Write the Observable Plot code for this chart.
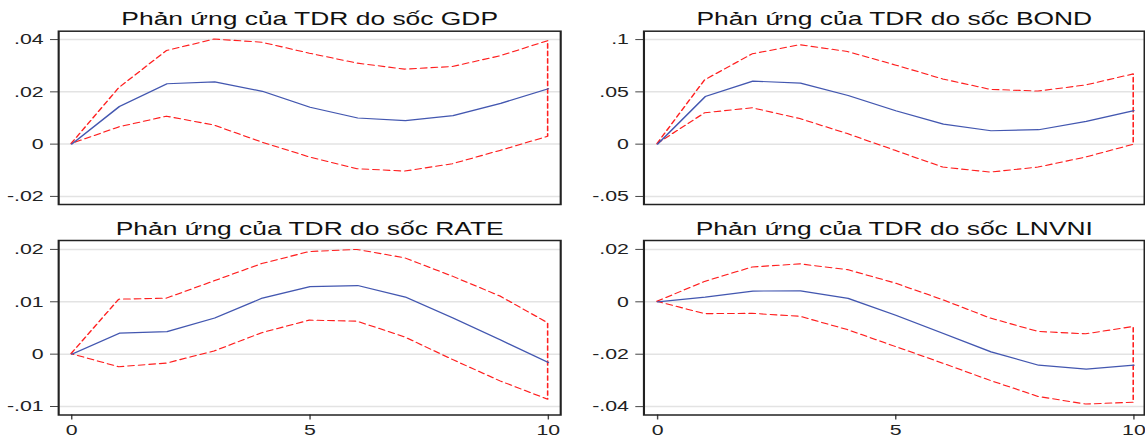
<!DOCTYPE html>
<html><head><meta charset="utf-8">
<script src="https://cdn.jsdelivr.net/npm/d3@7"></script>
<script src="https://cdn.jsdelivr.net/npm/@observablehq/plot@0.6"></script>
<style>
html,body{margin:0;padding:0;background:#fff;width:1145px;height:437px;overflow:hidden;}
#wrap{position:absolute;left:0;top:0;width:806px;height:437px;transform:scaleX(1.4206);transform-origin:0 0;}
.panel{position:absolute;}
.panel svg{overflow:visible;display:block;}
</style></head><body><div id="wrap"></div>
<script>
// Horizons (periods after shock)
const steps = [0,1,2,3,4,5,6,7,8,9,10];
const xTicks = [0,5,10];

// Response of TDR to GDP shock
const gdpIrf   = [0, 0.0144, 0.0231, 0.0238, 0.0202, 0.0141, 0.0100, 0.0090, 0.0109, 0.0156, 0.0212];
const gdpUpper = [0, 0.0214, 0.0356, 0.0400, 0.0388, 0.0346, 0.0308, 0.0285, 0.0295, 0.0336, 0.0394];
const gdpLower = [0, 0.0064, 0.0105, 0.0071, 0.0006, -0.0051, -0.0096, -0.0105, -0.0077, -0.0026, 0.0028];
const gdpTicks = [-0.02, 0, 0.02, 0.04];

// Response of TDR to BOND shock
const bondIrf   = [0, 0.0455, 0.0603, 0.0583, 0.0465, 0.0320, 0.0192, 0.0128, 0.0138, 0.0218, 0.0320];
const bondUpper = [0, 0.0610, 0.0859, 0.0946, 0.0881, 0.0753, 0.0619, 0.0519, 0.0503, 0.0561, 0.0667];
const bondLower = [0, 0.0295, 0.0343, 0.0240, 0.0096, -0.0064, -0.0224, -0.0272, -0.0224, -0.0128, -0.0006];
const bondTicks = [-0.05, 0, 0.05, 0.1];

// Response of TDR to RATE shock
const rateIrf   = [0, 0.0040, 0.0043, 0.0069, 0.0107, 0.0129, 0.0131, 0.0109, 0.0069, 0.0027, -0.0016];
const rateUpper = [0, 0.0104, 0.0106, 0.0139, 0.0172, 0.0195, 0.0199, 0.0183, 0.0148, 0.0110, 0.0059];
const rateLower = [0, -0.0025, -0.0018, 0.0005, 0.0040, 0.0064, 0.0062, 0.0032, -0.0011, -0.0052, -0.0087];
const rateTicks = [-0.01, 0, 0.01, 0.02];

// Response of TDR to LNVNI shock
const vniIrf   = [0, 0.0018, 0.0041, 0.0042, 0.0013, -0.0051, -0.0121, -0.0191, -0.0242, -0.0257, -0.0242];
const vniUpper = [0, 0.0076, 0.0131, 0.0143, 0.0121, 0.0070, 0.0006, -0.0064, -0.0115, -0.0124, -0.0096];
const vniLower = [0, -0.0047, -0.0046, -0.0057, -0.0108, -0.0172, -0.0236, -0.0302, -0.0363, -0.0392, -0.0385];
const vniTicks = [-0.04, -0.02, 0, 0.02];

const titles = [
  "Phản ứng của TDR do sốc GDP",
  "Phản ứng của TDR do sốc BOND",
  "Phản ứng của TDR do sốc RATE",
  "Phản ứng của TDR do sốc LNVNI"
];

const fmt = d => d === 0 ? "0" : String(d).replace("0.", ".");

function panel(o) {
  const data = steps.map((s, i) => ({step: s, irf: o.irf[i], lo: o.lo[i], hi: o.hi[i]}));
  const chart = Plot.plot({
    width: o.width, height: o.height,
    marginLeft: o.mL, marginRight: o.mR, marginTop: o.mT, marginBottom: o.mB,
    x: {domain: [0, 10], insetLeft: o.iL, insetRight: o.iR, axis: null},
    y: {domain: o.yDomain, axis: null},
    style: {fontFamily: "'Liberation Sans', Arial, sans-serif", fontSize: "15px", background: "transparent", overflow: "visible"},
    marks: [
      Plot.gridY(o.ticks, {stroke: "#e3e3e3", strokeOpacity: 1, strokeWidth: 1.5}),
      Plot.axisY(o.ticks, {tickSize: 5.6, tickPadding: 5, tickFormat: fmt, stroke: "#444", fill: "#222", fontSize: 15, label: null}),
      o.xAxis ? Plot.axisX(xTicks, {tickSize: 5, tickPadding: 4, tickFormat: d => String(d), stroke: "#444", fill: "#222", fontSize: 15, label: null}) : null,
      Plot.areaY(data, {x: "step", y1: "lo", y2: "hi", fill: "none", stroke: "#ff1f1f", strokeWidth: 1.1, strokeDasharray: "4.5,3"}),
      Plot.lineY(data, {x: "step", y: "irf", stroke: "#4357b0", strokeWidth: 1.2}),
      Plot.frame({stroke: "#222", strokeWidth: 1.5}),
      Plot.text([o.title], {frameAnchor: "top", dy: o.tDy, lineAnchor: "bottom", fontSize: 18.6, fill: "#111"})
    ]
  });
  const div = document.createElement("div");
  div.className = "panel";
  div.style.left = o.left + "px";
  div.style.top = o.top + "px";
  div.appendChild(chart);
  document.getElementById("wrap").appendChild(div);
}

const L = {left: 0, width: 403, mL: 40.8, mR: 8.8, iL: 9.2, iR: 8.7};
const R = {left: 403, width: 403, mL: 49.8, mR: 0.8, iL: 9.6, iR: 7.5};
const T = {top: 0, height: 215, mT: 30.7, mB: 11, xAxis: false, tDy: -6.7};
const B = {top: 215, height: 222, mT: 25, mB: 22.5, xAxis: true, tDy: -6};

panel({...L, ...T, title: titles[0], irf: gdpIrf, lo: gdpLower, hi: gdpUpper, ticks: gdpTicks, yDomain: [-0.0231, 0.0432]});
panel({...R, ...T, title: titles[1], irf: bondIrf, lo: bondLower, hi: bondUpper, ticks: bondTicks, yDomain: [-0.0577, 0.108]});
panel({...L, ...B, title: titles[2], irf: rateIrf, lo: rateLower, hi: rateUpper, ticks: rateTicks, yDomain: [-0.01162, 0.0217]});
panel({...R, ...B, title: titles[3], irf: vniIrf, lo: vniLower, hi: vniUpper, ticks: vniTicks, yDomain: [-0.0432, 0.0234]});
</script>
</body></html>
